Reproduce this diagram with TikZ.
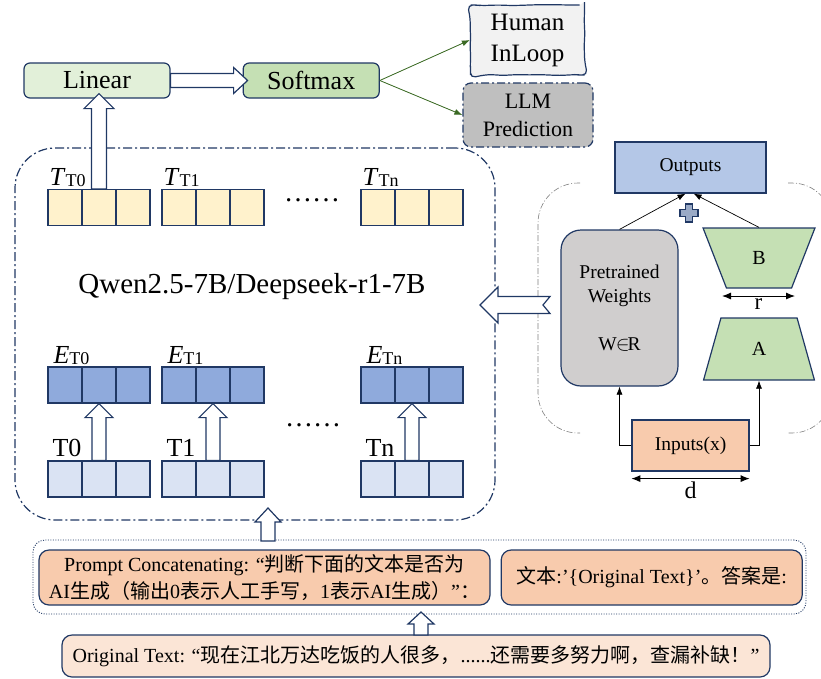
\documentclass[tikz,border=0pt]{standalone}
\usepackage{fontspec}
\setmainfont{Liberation Serif}
\newfontfamily\cjk{Noto Sans CJK SC}
\usepackage{tikz}
\usetikzlibrary{arrows,arrows.meta}
\usetikzlibrary{positioning,calc,shapes.geometric,decorations.pathmorphing}

\definecolor{navy}{HTML}{203864}
\definecolor{paleGreen}{HTML}{E2F0D9}
\definecolor{midGreen}{HTML}{C5E0B4}
\definecolor{darkGreen}{HTML}{3B6A24}
\definecolor{paleGrey}{HTML}{F2F2F2}
\definecolor{midGrey}{HTML}{BFBFBF}
\definecolor{weightGrey}{HTML}{D0CECE}
\definecolor{cellYellow}{HTML}{FFF2CC}
\definecolor{cellBlue}{HTML}{8FAADC}
\definecolor{cellPale}{HTML}{DAE3F3}
\definecolor{outBlue}{HTML}{B4C7E7}
\definecolor{peach}{HTML}{F8CBAD}
\definecolor{palePeach}{HTML}{FBE5D6}
\definecolor{plusBlue}{HTML}{9AAAC6}

\newcommand{\fsz}[1]{\fontsize{#1}{#1}\selectfont}
% hollow block arrow: [notch]{from}{to}{half shaft}{half head}{head length}
\newcommand{\fatarrow}[6][0pt]{%
  \coordinate (fa-n) at ($(#3)!#6!(#2)$);
  \draw[fat arrow] ($(#2)!#4!90:(#3)$) -- ($(fa-n)!#4!-90:(#2)$) -- ($(fa-n)!#5!-90:(#2)$)
    -- (#3) -- ($(fa-n)!#5!90:(#2)$) -- ($(fa-n)!#4!90:(#2)$) -- ($(#2)!#4!-90:(#3)$)
    -- ($(#2)!#1!(#3)$) -- cycle;}

\begin{document}
\begin{tikzpicture}[>={Latex[length=8pt,width=6pt]},x=1pt,y=-1pt,
    every node/.style={inner sep=0pt},
    round box/.style={draw=navy,line width=1.2pt,rounded corners=6pt,align=center},
    cell/.style={draw=navy,line width=1.2pt,minimum width=34pt,minimum height=36pt},
    fat arrow/.style={draw=navy,fill=white,line width=1.2pt,line join=miter},
    green arrow/.style={->,draw=darkGreen,fill=darkGreen,line width=0.8pt},
    thin arrow/.style={->,line width=0.7pt},
    dim arrow/.style={{Latex[length=9pt,width=7pt]}-{Latex[length=9pt,width=7pt]},line width=0.9pt},
    lora box/.style={trapezium,trapezium stretches=true,draw=navy,line width=1.2pt,
                     fill=midGreen,font=\fsz{20}},
    panel line/.style={draw=gray,line width=0.6pt,dash pattern=on 6pt off 2pt on 1pt off 2pt}]

  \useasboundingbox (0,0) rectangle (821,678);

  % output head
  \node[round box,fill=paleGreen,minimum width=146pt,minimum height=35pt,font=\fsz{26}]
    (linear) at (97,80.5) {Linear};
  \node[round box,fill=midGreen,minimum width=136pt,minimum height=35pt,font=\fsz{26}]
    (softmax) [right=72pt of linear] {Softmax};
  \pgfmathsetseed{11}
  \node[round box,fill=paleGrey,minimum width=114pt,minimum height=70pt,
        font={\fontsize{25}{31}\selectfont},rounded corners=5pt,decorate,
        decoration={random steps,segment length=9pt,amplitude=0.6pt}]
    (human) at (527.5,40) {Human\\InLoop};
  \node[round box,fill=midGrey,minimum width=130pt,minimum height=64pt,
        font={\fontsize{22}{28}\selectfont},rounded corners=8pt,
        dash pattern=on 8pt off 3pt on 2pt off 3pt]
    (llmpred) at (528,115) {LLM\\Prediction};
  \draw[green arrow] (softmax.east) -- (human.west);
  \draw[green arrow] (softmax.east) -- (llmpred.west);

  % language model
  \node[draw=navy,line width=1.2pt,rounded corners=40pt,minimum width=480pt,minimum height=372pt,
        dash pattern=on 9pt off 3pt on 2pt off 3pt]
    (llm) at (255,334) {};
  \node[font=\fsz{29}] (qwen) at (252,287) {Qwen2.5-7B/Deepseek-r1-7B};

  \foreach \g/\gx in {0/48,1/162,n/361} {
    \foreach \c in {0,1,2} {
      \node[cell,fill=cellYellow] (top\g\c) at (\gx+17+\c*34,207.5) {};
      \node[cell,fill=cellBlue] (emb\g\c) at (\gx+17+\c*34,385) {};
      \node[cell,fill=cellPale] (tok\g\c) at (\gx+17+\c*34,479) {};
    }
    \node[anchor=base west] at ([xshift=2pt,yshift=3pt]top\g0.north west)
      {\fsz{26}\textit{T}\raisebox{-1pt}{\fsz{18}T\g}};
    \node[anchor=base west] at ([xshift=6pt,yshift=3pt]emb\g0.north west)
      {\fsz{26}\textit{E}\raisebox{-1pt}{\fsz{18}T\g}};
    \node[anchor=base west] at ([xshift=5pt,yshift=4pt]tok\g0.north west)
      {\fsz{26}T\g};
    \fatarrow{tok\g1.north}{emb\g1.south}{7pt}{14pt}{14pt}
  }
  \node[font=\fsz{28}] (dots1) at (312,200) {……};
  \node[font=\fsz{28}] (dots2) at (313,425) {……};

  \coordinate (lin-in) at ([yshift=5pt]top01.north |- linear.south);
  \fatarrow{top01.north}{lin-in}{7.5pt}{15pt}{15pt}
  \coordinate (soft-in) at ([xshift=5pt]softmax.west);
  \fatarrow{linear.east}{soft-in}{7pt}{13pt}{14pt}

  % LoRA panel
  \draw[panel line,rounded corners=40pt] (580,183) -- (538,183) -- (538,433) -- (580,433);
  \draw[panel line,rounded corners=40pt] (788,183) -- (832,183) -- (832,433) -- (788,433);
  \node[draw=navy,line width=1.2pt,fill=outBlue,minimum width=151pt,minimum height=51pt,font=\fsz{19.5}]
    (outputs) at (690.5,167.5) {Outputs};
  \node[round box,fill=weightGrey,rounded corners=20pt,minimum width=117pt,minimum height=156pt,
        font={\fontsize{19.5}{24}\selectfont}]
    (pw) at (619.5,308) {Pretrained\\Weights\\[24pt]W\kern-1pt$\in$\kern-2pt R};
  \node[lora box,shape border rotate=180,trapezium left angle=70,trapezium right angle=70,
        minimum width=112pt,minimum height=60pt]
    (lorab) at (759,258) {B};
  \node[lora box,trapezium left angle=76,trapezium right angle=76,
        minimum width=111pt,minimum height=62pt]
    (loraa) at (759,349) {A};
  \node[draw=navy,line width=1.2pt,fill=peach,minimum width=117pt,minimum height=51pt,font=\fsz{19.5}]
    (inputs) at (690.5,445.5) {Inputs(x)};
  \draw[navy,line width=1.2pt,fill=plusBlue,shift={(689,213)}]
    (-3.5,-9) -- (3.5,-9) -- (3.5,-3.5) -- (9,-3.5) -- (9,3.5) -- (3.5,3.5) -- (3.5,9)
    -- (-3.5,9) -- (-3.5,3.5) -- (-9,3.5) -- (-9,-3.5) -- (-3.5,-3.5) -- cycle;
  \draw[thin arrow] (pw.north) -- ($(outputs.south)+(-5,0)$);
  \draw[thin arrow] (lorab.north) -- ($(outputs.south)+(3,0)$);
  \draw[thin arrow] (inputs.west) -| (pw.south);
  \draw[thin arrow] (inputs.east) -| (loraa.south);
  \coordinate (r-l) at (722,296);
  \coordinate (r-r) at (795,296);
  \draw[dim arrow] (r-l) -- (r-r) node[midway,below=2pt,font=\fsz{23}] {r};
  \draw[dim arrow] ([yshift=-7pt]inputs.south west) -- ([yshift=-7pt]inputs.south east)
    node[midway,below=3pt,font=\fsz{24}] {d};
  \coordinate (panel-out) at (550,305);
  \coordinate (llm-in) at (480,305);
  \fatarrow[7pt]{panel-out}{llm-in}{8.5pt}{18pt}{18pt}

  % prompt
  \node[draw=navy,line width=0.9pt,rounded corners=12pt,minimum width=773pt,minimum height=74pt,
        dash pattern=on 1pt off 1.5pt]
    (concat) at (419.5,577) {};
  \node[round box,fill=peach,rounded corners=10pt,minimum width=451pt,minimum height=55pt,
        font={\fontsize{20}{27}\selectfont}]
    (prompt) at (264.5,577.5)
    {Prompt Concatenating: “{\cjk 判断下面的文本是否为}\\AI{\cjk 生成（输出}0{\cjk 表示人工手写，}1{\cjk 表示}AI{\cjk 生成）}”{\cjk ：}};
  \node[round box,fill=peach,rounded corners=10pt,minimum width=301pt,minimum height=55pt,font=\fsz{20}]
    (answer) [right=10pt of prompt] {{\cjk 文本}:’\{Original Text\}’{\cjk 。答案是}:};
  \node[round box,fill=palePeach,rounded corners=10pt,minimum width=708pt,minimum height=42pt,font=\fsz{20}]
    (orig) at (416,656)
    {Original Text: “{\cjk 现在江北万达吃饭的人很多，}......{\cjk 还需要多努力啊，查漏补缺！}”};
  \coordinate (up1) at (268,541);
  \coordinate (up1-tip) at (268,508);
  \fatarrow{up1}{up1-tip}{7pt}{13pt}{14pt}
  \coordinate (up2) at (421,635);
  \coordinate (up2-tip) at (421,612);
  \fatarrow{up2}{up2-tip}{7pt}{13pt}{12pt}
\end{tikzpicture}
\end{document}
